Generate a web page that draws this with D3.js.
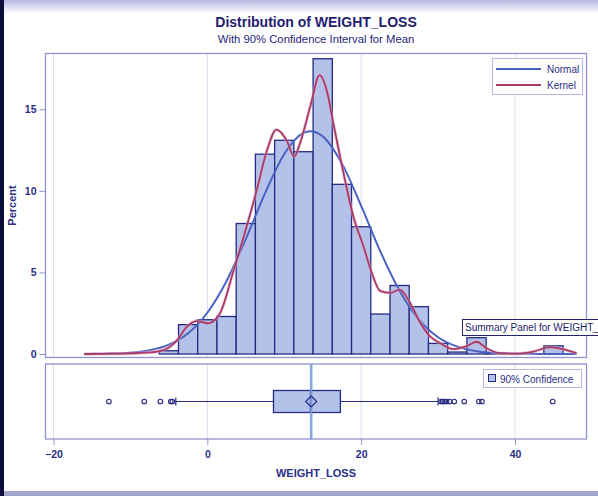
<!DOCTYPE html>
<html><head><meta charset="utf-8">
<script src="https://cdn.jsdelivr.net/npm/d3@7/dist/d3.min.js"></script>
<style>body{margin:0;background:#fff}svg{display:block}</style>
</head><body>
<script>
// ---------- data ----------
const binWidth = 2.5;
const binCenters  = [-5, -2.5, 0, 2.5, 5, 7.5, 10, 12.5, 15, 17.5, 20, 22.5, 25, 27.5, 30, 32.5, 35, 37.5, 40, 42.5, 45];
const binPercents = [0.2, 1.8, 2.1, 2.3, 8.0, 12.25, 13.1, 12.4, 18.1, 10.4, 7.8, 2.45, 4.2, 2.9, 0.65, 0.12, 1.0, 0.05, 0, 0, 0.5];

const normalX = [-16, -15, -12.5, -10, -7.5, -5, -2.5, 0, 2.5, 5, 7.5, 10, 12.5, 13.4, 15, 17.5, 20, 22.5, 25, 27.5, 30, 32.5, 35, 37.5, 40, 42.5, 45, 48];
const normalY = [0.0, 0.01, 0.03, 0.08, 0.23, 0.57, 1.27, 2.53, 4.48, 7.05, 9.85, 12.26, 13.56, 13.66, 13.34, 11.67, 9.08, 6.28, 3.87, 2.11, 1.03, 0.45, 0.17, 0.06, 0.02, 0.01, 0.0, 0.0];

const kernelX = [-16, -12, -9, -6.5, -5, -4, -2.7, -1.4, 0.1, 1.6, 3.4, 5.1, 6.4, 7.7, 9.0, 10.3, 11.3, 12.1, 13.4, 14.6, 15.5, 16.4, 17.7, 19.0, 20.3, 21.4, 22.5, 23.8, 25.0, 26.4, 27.7, 29.0, 30.3, 32.0, 33.7, 35.0, 36.3, 38.0, 40.2, 42.4, 44.6, 46.3, 48.0];
const kernelY = [0.0, 0.02, 0.06, 0.15, 0.4, 0.8, 1.65, 2.02, 1.88, 2.45, 5.1, 7.8, 10.0, 12.4, 13.75, 13.1, 12.1, 13.0, 15.2, 17.1, 16.2, 14.1, 11.1, 8.4, 6.6, 4.95, 3.85, 3.75, 3.95, 3.1, 1.9, 1.06, 0.66, 0.3, 0.48, 0.75, 0.35, 0.05, 0.02, 0.15, 0.42, 0.28, 0.05];

// whisker low, Q1, median, Q3, whisker high
const boxValues = [-4.1, 8.6, 13.4, 17.3, 30.0];
const meanValue = 13.5;
const ciValues = [13.33, 13.67];
const outliers = [-12.8, -8.2, -6.1, -4.75, -4.55, 30.4, 30.6, 30.8, 31.1, 31.5, 32.1, 33.4, 35.3, 35.7, 44.9];

const xTicks = [-20, 0, 20, 40];
const yTicks = [0, 5, 10, 15];
const legendLabels = ["Normal", "Kernel"];

// ---------- drawing ----------
const W = 598, H = 496;
const navy = "#262a82", textC = "#2b2e86", frameC = "#8f93d3", gridC = "#dcdcf1";
const barFill = "#b3c2e9", normalC = "#4a62c2", kernelC = "#a63b69";
const font = "'Liberation Sans', Arial, sans-serif";

const svg = d3.select("body").append("svg").attr("width", W).attr("height", H)
  .style("font-family", font);

const defs = svg.append("defs");
const g1 = defs.append("linearGradient").attr("id", "topband").attr("x1", 0).attr("x2", 0).attr("y1", 0).attr("y2", 1);
g1.append("stop").attr("offset", "0%").attr("stop-color", "#b9bae2");
g1.append("stop").attr("offset", "100%").attr("stop-color", "#ffffff");

svg.append("rect").attr("width", W).attr("height", H).attr("fill", "#ffffff");
svg.append("rect").attr("x", 0).attr("y", 0).attr("width", W).attr("height", 14).attr("fill", "url(#topband)");
svg.append("rect").attr("x", 0).attr("y", 491).attr("width", W).attr("height", 5).attr("fill", "#a3a4cc");
svg.append("rect").attr("x", 0).attr("y", 0).attr("width", 4).attr("height", H).attr("fill", "#0c0d3a");

const up = {l: 45.5, r: 586.5, t: 53.5, b: 357.5};
const lo = {t: 364, b: 439};

const x = d3.scaleLinear().domain([-20, 40]).range([53.5, 515]);
const y = d3.scaleLinear().domain([0, 15]).range([354, 109.3]);
const boxY = d3.scaleBand().domain(["WEIGHT_LOSS"]).range([lo.t, lo.b]).paddingInner(0).paddingOuter(0);
const bc = boxY("WEIGHT_LOSS") + boxY.bandwidth() / 2;

defs.append("clipPath").attr("id", "clipUp").append("rect")
  .attr("x", up.l).attr("y", up.t).attr("width", up.r - up.l).attr("height", up.b - up.t);

// title
svg.append("text").attr("x", (up.l + up.r) / 2).attr("y", 27).attr("text-anchor", "middle")
  .attr("font-size", 14).attr("font-weight", "bold").attr("fill", "#1f2070").text("Distribution of WEIGHT_LOSS");
svg.append("text").attr("x", (up.l + up.r) / 2).attr("y", 43).attr("text-anchor", "middle")
  .attr("font-size", 11.3).attr("fill", "#25267a").text("With 90% Confidence Interval for Mean");

// gridlines
[[up.t, up.b], [lo.t, lo.b]].forEach(([t, b]) => {
  svg.append("g").selectAll("line").data(xTicks).join("line")
    .attr("x1", d => x(d)).attr("x2", d => x(d)).attr("y1", t).attr("y2", b)
    .attr("stroke", gridC).attr("stroke-width", 1);
});

// histogram
const up_g = svg.append("g").attr("clip-path", "url(#clipUp)");
up_g.selectAll("rect.bar").data(binCenters.map((c, i) => ({c, p: binPercents[i]})).filter(d => d.p > 0))
  .join("rect").attr("class", "bar")
  .attr("x", d => x(d.c - binWidth / 2)).attr("width", d => x(d.c + binWidth / 2) - x(d.c - binWidth / 2))
  .attr("y", d => y(d.p)).attr("height", d => y(0) - y(d.p))
  .attr("fill", barFill).attr("stroke", navy).attr("stroke-width", 1.3);

// curves
const line = d3.line().x(d => x(d[0])).y(d => y(d[1])).curve(d3.curveMonotoneX);
up_g.append("path").datum(normalX.map((v, i) => [v, normalY[i]]))
  .attr("d", line).attr("fill", "none").attr("stroke", normalC).attr("stroke-width", 2);
up_g.append("path").datum(kernelX.map((v, i) => [v, kernelY[i]]))
  .attr("d", line).attr("fill", "none").attr("stroke", "#e7a9c4").attr("stroke-width", 3.4).attr("opacity", 0.55);
up_g.append("path").datum(kernelX.map((v, i) => [v, kernelY[i]]))
  .attr("d", line).attr("fill", "none").attr("stroke", kernelC).attr("stroke-width", 1.8);

// frames
svg.append("rect").attr("x", up.l).attr("y", up.t).attr("width", up.r - up.l).attr("height", up.b - up.t)
  .attr("fill", "none").attr("stroke", frameC).attr("stroke-width", 1.3);
svg.append("rect").attr("x", up.l).attr("y", lo.t).attr("width", up.r - up.l).attr("height", lo.b - lo.t)
  .attr("fill", "none").attr("stroke", frameC).attr("stroke-width", 1.3);

// y axis
const yAxis = d3.axisLeft(y).tickValues(yTicks).tickSize(6).tickPadding(3).tickFormat(d3.format("d"));
const ya = svg.append("g").attr("transform", `translate(${up.l},0)`).call(yAxis);
ya.select(".domain").remove();
ya.selectAll(".tick line").attr("stroke", frameC).attr("stroke-width", 1);
ya.selectAll(".tick text").attr("fill", textC).attr("font-size", 10.5).attr("font-family", font).attr("font-weight", "bold");
svg.append("text").attr("transform", `translate(16,${(up.t + up.b) / 2}) rotate(-90)`)
  .attr("text-anchor", "middle").attr("font-size", 11).attr("font-weight", "bold").attr("fill", textC).text("Percent");

// x axis
const xAxis = d3.axisBottom(x).tickValues(xTicks).tickSize(6).tickPadding(6).tickFormat(d3.format("d"));
const xa = svg.append("g").attr("transform", `translate(0,${lo.b})`).call(xAxis);
xa.select(".domain").remove();
xa.selectAll(".tick line").attr("stroke", frameC).attr("stroke-width", 1);
xa.selectAll(".tick text").attr("fill", textC).attr("font-size", 10.5).attr("font-family", font).attr("font-weight", "bold");
svg.append("text").attr("x", (up.l + up.r) / 2).attr("y", 477).attr("text-anchor", "middle")
  .attr("font-size", 11).attr("font-weight", "bold").attr("fill", textC).text("WEIGHT_LOSS");

// box plot
const bp = svg.append("g");
const boxH = 22;
bp.append("line").attr("x1", x(boxValues[0])).attr("x2", x(boxValues[1])).attr("y1", bc).attr("y2", bc).attr("stroke", navy).attr("stroke-width", 1.2);
bp.append("line").attr("x1", x(boxValues[3])).attr("x2", x(boxValues[4])).attr("y1", bc).attr("y2", bc).attr("stroke", navy).attr("stroke-width", 1.2);
[boxValues[0], boxValues[4]].forEach(v => bp.append("line").attr("x1", x(v)).attr("x2", x(v)).attr("y1", bc - 4).attr("y2", bc + 4).attr("stroke", navy).attr("stroke-width", 1.2));
bp.append("rect").attr("x", x(boxValues[1])).attr("width", x(boxValues[3]) - x(boxValues[1]))
  .attr("y", bc - boxH / 2).attr("height", boxH).attr("fill", barFill).attr("stroke", navy).attr("stroke-width", 1.3);
bp.append("line").attr("x1", x(boxValues[2])).attr("x2", x(boxValues[2])).attr("y1", bc - boxH / 2).attr("y2", bc + boxH / 2).attr("stroke", navy).attr("stroke-width", 1.2);
// CI band
bp.append("rect").attr("x", x(ciValues[0])).attr("width", x(ciValues[1]) - x(ciValues[0]))
  .attr("y", lo.t).attr("height", lo.b - lo.t).attr("fill", "#6f9bd6").attr("opacity", 0.85);
// mean diamond
const mx = x(meanValue), dd = 5.5;
bp.append("path").attr("d", `M${mx},${bc - dd}L${mx + dd},${bc}L${mx},${bc + dd}L${mx - dd},${bc}Z`)
  .attr("fill", "none").attr("stroke", navy).attr("stroke-width", 1.2);
// outliers
bp.selectAll("circle").data(outliers).join("circle")
  .attr("cx", d => x(d)).attr("cy", bc).attr("r", 2.3)
  .attr("fill", "none").attr("stroke", navy).attr("stroke-width", 1.1);

// legend upper
const lg = svg.append("g");
lg.append("rect").attr("x", 492.5).attr("y", 58.5).attr("width", 90).attr("height", 36)
  .attr("fill", "#fff").attr("stroke", "#b6b8e3").attr("stroke-width", 1);
legendLabels.forEach((lab, i) => {
  const ly = 69 + i * 16;
  lg.append("line").attr("x1", 496).attr("x2", 541).attr("y1", ly).attr("y2", ly)
    .attr("stroke", i === 0 ? normalC : kernelC).attr("stroke-width", 2);
  lg.append("text").attr("x", 547).attr("y", ly + 3.5).attr("font-size", 10).attr("fill", textC).text(lab);
});

// legend lower
const lg2 = svg.append("g");
lg2.append("rect").attr("x", 483.5).attr("y", 369.5).attr("width", 98).attr("height", 18)
  .attr("fill", "#fff").attr("stroke", "#b6b8e3").attr("stroke-width", 1);
lg2.append("rect").attr("x", 488.5).attr("y", 374.5).attr("width", 7).attr("height", 7)
  .attr("fill", barFill).attr("stroke", navy).attr("stroke-width", 1);
lg2.append("text").attr("x", 500).attr("y", 382.5).attr("font-size", 10).attr("fill", textC).text("90% Confidence");

// tooltip
const tt = svg.append("g");
tt.append("rect").attr("x", 462.5).attr("y", 319.5).attr("width", 140).attr("height", 16)
  .attr("fill", "#fff").attr("stroke", "#23246f").attr("stroke-width", 1);
tt.append("text").attr("x", 465).attr("y", 331).attr("font-size", 10).attr("fill", "#1d1e6a").text("Summary Panel for WEIGHT_");
</script>
</body></html>
